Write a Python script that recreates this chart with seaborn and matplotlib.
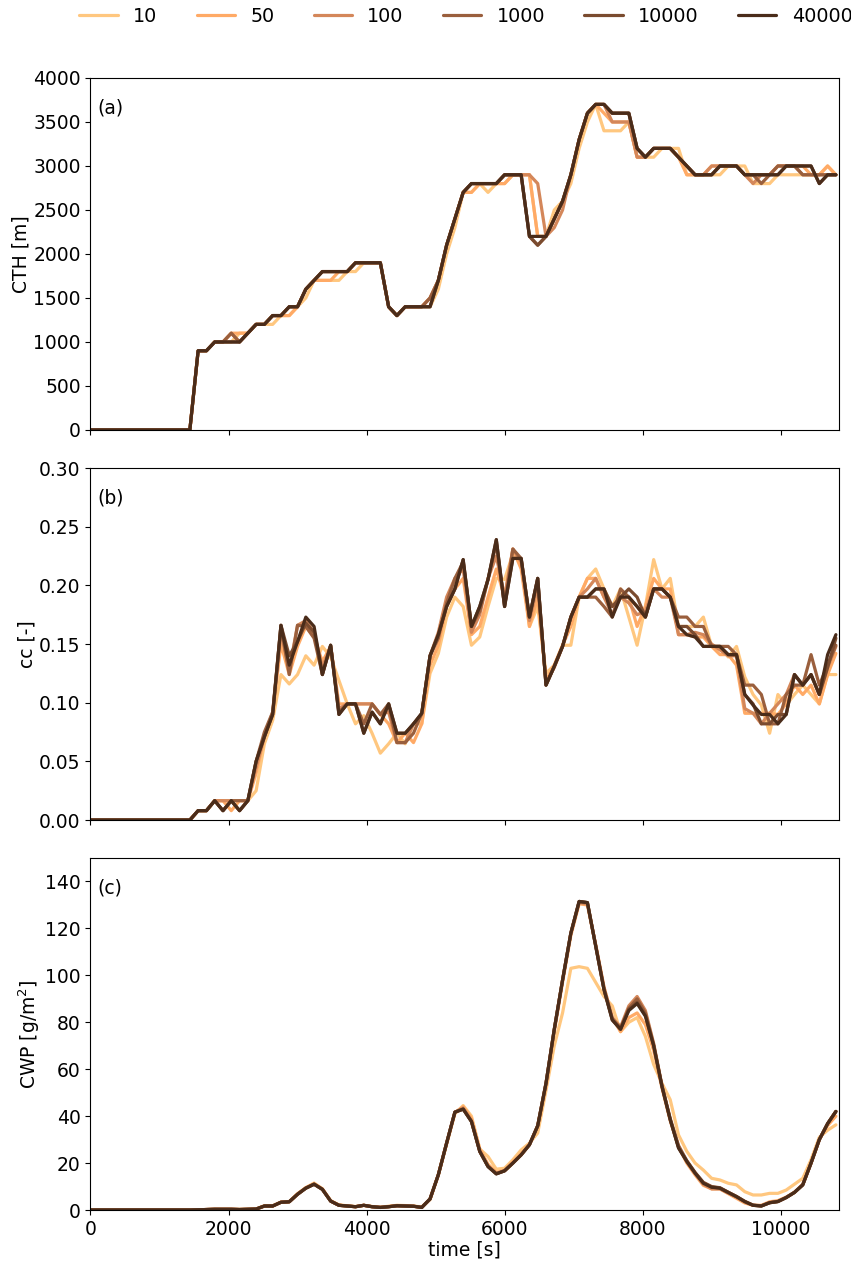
import numpy as np
import pandas as pd
import matplotlib
matplotlib.use("Agg")
import matplotlib.pyplot as plt
import seaborn as sns

# ---------------- data ----------------
time_s = np.arange(0, 10801, 120)  # model output times [s]
runs = ["10", "50", "100", "1000", "10000", "40000"]
colors = ["#FFC77F", "#FFAA66", "#D4875A", "#9A5F3D", "#7A4B2F", "#4A2C1A"]

z13 = [0, 0, 0, 0, 0, 0, 0, 0, 0, 0, 0, 0, 0]

cth_10 = z13 + [
    900, 900, 1000, 1000, 1000, 1100, 1100,
    1200, 1200, 1200, 1300, 1300, 1400, 1500, 1700, 1700, 1700,
    1700, 1800, 1800, 1900, 1900, 1900, 1400, 1300, 1400, 1400,
    1400, 1400, 1600, 2000, 2300, 2700, 2700, 2800, 2700, 2800,
    2800, 2900, 2900, 2900, 2200, 2200, 2500, 2600, 2800, 3200,
    3500, 3700, 3400, 3400, 3400, 3500, 3100, 3100, 3100, 3200,
    3200, 3200, 2900, 2900, 2900, 2900, 2900, 3000, 3000, 3000,
    2800, 2800, 2800, 2900, 2900, 2900, 2900, 2900, 2900, 3000, 2900]
cth_50 = z13 + [
    900, 900, 1000, 1000, 1100, 1100, 1100,
    1200, 1200, 1300, 1300, 1300, 1400, 1600, 1700, 1700, 1700,
    1800, 1800, 1900, 1900, 1900, 1900, 1400, 1300, 1400, 1400,
    1400, 1500, 1700, 2100, 2400, 2700, 2700, 2800, 2800, 2800,
    2800, 2900, 2900, 2900, 2200, 2200, 2400, 2600, 2900, 3300,
    3600, 3700, 3600, 3500, 3500, 3500, 3100, 3100, 3200, 3200,
    3200, 3100, 2900, 2900, 2900, 3000, 3000, 3000, 3000, 2900,
    2900, 2900, 2900, 3000, 3000, 3000, 3000, 2900, 2900, 3000, 2900]
cth_100 = z13 + [
    900, 900, 1000, 1000, 1100, 1000, 1100,
    1200, 1200, 1300, 1300, 1400, 1400, 1600, 1700, 1800, 1800,
    1800, 1800, 1900, 1900, 1900, 1900, 1400, 1300, 1400, 1400,
    1400, 1500, 1700, 2100, 2400, 2700, 2800, 2800, 2800, 2800,
    2900, 2900, 2900, 2900, 2800, 2200, 2300, 2500, 2900, 3300,
    3600, 3700, 3700, 3500, 3500, 3500, 3100, 3100, 3200, 3200,
    3200, 3100, 3000, 2900, 2900, 3000, 3000, 3000, 3000, 2900,
    2800, 2900, 2900, 3000, 3000, 3000, 2900, 2900, 2900, 2900, 2900]
cth_1000 = z13 + [
    900, 900, 1000, 1000, 1100, 1000, 1100,
    1200, 1200, 1300, 1300, 1400, 1400, 1600, 1700, 1800, 1800,
    1800, 1800, 1900, 1900, 1900, 1900, 1400, 1300, 1400, 1400,
    1400, 1500, 1700, 2100, 2400, 2700, 2800, 2800, 2800, 2800,
    2900, 2900, 2900, 2200, 2100, 2200, 2400, 2600, 2900, 3300,
    3600, 3700, 3700, 3600, 3600, 3600, 3200, 3100, 3200, 3200,
    3200, 3100, 3000, 2900, 2900, 2900, 3000, 3000, 3000, 2900,
    2900, 2800, 2900, 3000, 3000, 3000, 2900, 2900, 2900, 2900, 2900]
cth_10000 = z13 + [
    900, 900, 1000, 1000, 1000, 1000, 1100,
    1200, 1200, 1300, 1300, 1400, 1400, 1600, 1700, 1800, 1800,
    1800, 1800, 1900, 1900, 1900, 1900, 1400, 1300, 1400, 1400,
    1400, 1400, 1700, 2100, 2400, 2700, 2800, 2800, 2800, 2800,
    2900, 2900, 2900, 2200, 2100, 2200, 2400, 2600, 2900, 3300,
    3600, 3700, 3700, 3600, 3600, 3600, 3200, 3100, 3200, 3200,
    3200, 3100, 3000, 2900, 2900, 2900, 3000, 3000, 3000, 2900,
    2900, 2900, 2900, 2900, 3000, 3000, 3000, 3000, 2800, 2900, 2900]
cth_40000 = z13 + [
    900, 900, 1000, 1000, 1000, 1000, 1100,
    1200, 1200, 1300, 1300, 1400, 1400, 1600, 1700, 1800, 1800,
    1800, 1800, 1900, 1900, 1900, 1900, 1400, 1300, 1400, 1400,
    1400, 1400, 1700, 2100, 2400, 2700, 2800, 2800, 2800, 2800,
    2900, 2900, 2900, 2200, 2200, 2200, 2400, 2600, 2900, 3300,
    3600, 3700, 3700, 3600, 3600, 3600, 3200, 3100, 3200, 3200,
    3200, 3100, 3000, 2900, 2900, 2900, 3000, 3000, 3000, 2900,
    2900, 2900, 2900, 2900, 3000, 3000, 3000, 3000, 2800, 2900, 2900]

cc_10 = z13 + [
    .008, .008, .0165, .0165, .0165, .0165, .0165,
    .025, .065, .085, .124, .116, .124, .140, .132, .148, .139,
    .119, .099, .082, .089, .074, .057, .065, .074, .065, .082,
    .082, .125, .142, .173, .190, .182, .149, .156, .182, .206,
    .205, .227, .222, .165, .182, .125, .132, .149, .149, .190,
    .206, .214, .197, .182, .197, .173, .149, .182, .222, .197,
    .206, .165, .165, .165, .173, .148, .148, .139, .148, .122,
    .107, .098, .074, .107, .098, .107, .115, .107, .099, .124, .124]
cc_50 = z13 + [
    .008, .008, .0165, .0165, .008, .0165, .0165,
    .040, .071, .090, .150, .124, .148, .165, .156, .135, .148,
    .099, .099, .099, .099, .099, .090, .082, .066, .074, .066,
    .082, .132, .149, .182, .197, .206, .158, .165, .190, .214,
    .190, .231, .214, .165, .190, .119, .132, .149, .165, .190,
    .206, .206, .190, .182, .190, .190, .165, .182, .206, .197,
    .197, .158, .158, .156, .156, .148, .141, .141, .132, .091,
    .091, .091, .091, .090, .099, .115, .107, .115, .099, .124, .142]
cc_100 = z13 + [
    .008, .008, .0165, .0165, .0165, .008, .0165,
    .045, .071, .092, .160, .128, .166, .170, .160, .130, .148,
    .095, .099, .099, .099, .099, .090, .092, .066, .066, .082,
    .090, .140, .160, .190, .206, .214, .160, .175, .206, .225,
    .190, .231, .220, .170, .200, .117, .130, .148, .173, .190,
    .197, .206, .190, .175, .190, .185, .175, .178, .197, .190,
    .190, .158, .158, .160, .158, .150, .145, .140, .140, .095,
    .091, .082, .091, .099, .107, .124, .115, .124, .107, .130, .148]
cc_1000 = z13 + [
    .008, .008, .0165, .008, .0165, .0165, .0165,
    .050, .075, .092, .166, .124, .166, .165, .155, .124, .149,
    .092, .099, .099, .082, .099, .090, .099, .066, .066, .074,
    .091, .140, .155, .185, .206, .220, .165, .178, .205, .236,
    .182, .231, .223, .173, .206, .115, .131, .148, .173, .190,
    .190, .190, .182, .173, .197, .190, .182, .173, .197, .197,
    .190, .173, .173, .165, .165, .148, .148, .148, .141, .115,
    .115, .107, .082, .082, .107, .115, .115, .141, .115, .132, .149]
cc_10000 = z13 + [
    .008, .008, .0165, .008, .0165, .008, .0165,
    .050, .071, .090, .166, .140, .152, .168, .160, .124, .149,
    .090, .099, .099, .074, .092, .082, .099, .074, .074, .082,
    .091, .140, .158, .182, .197, .222, .165, .182, .205, .239,
    .182, .223, .223, .173, .206, .115, .131, .148, .173, .190,
    .190, .197, .197, .182, .190, .197, .190, .173, .197, .197,
    .190, .165, .165, .158, .148, .148, .148, .141, .141, .107,
    .099, .082, .082, .090, .090, .124, .115, .124, .107, .130, .155]
cc_40000 = z13 + [
    .008, .008, .0165, .008, .0165, .008, .0165,
    .050, .071, .090, .166, .132, .152, .173, .165, .124, .149,
    .090, .099, .099, .074, .092, .082, .099, .074, .074, .082,
    .091, .140, .158, .182, .197, .222, .165, .182, .205, .239,
    .182, .223, .223, .173, .206, .115, .131, .148, .173, .190,
    .190, .197, .197, .173, .190, .190, .182, .173, .197, .197,
    .190, .165, .158, .156, .148, .148, .148, .141, .141, .107,
    .098, .090, .090, .082, .090, .124, .115, .124, .107, .141, .158]

cwp_10 = z13 + [
    0.1, 0.2, 0.3, 0.3, 0.3, 0.3, 0.3,
    0.5, 1.8, 1.8, 3.4, 3.6, 7.0, 9.5, 11.5, 9.0, 4.0,
    2.2, 1.8, 1.5, 2.0, 1.5, 1.2, 1.6, 2.0, 1.9, 1.7,
    1.3, 4.5, 15.0, 28.0, 41.0, 44.5, 40.0, 26.0, 22.8, 17.4,
    17.8, 21.4, 25.6, 28.5, 32.8, 51.0, 70.0, 84.0, 103.0, 103.7,
    103.0, 97.0, 91.0, 87.0, 76.0, 80.0, 82.0, 74.0, 62.0, 54.0,
    47.0, 32.0, 25.0, 20.0, 17.0, 13.5, 12.8, 11.4, 10.7, 7.8,
    6.4, 6.4, 7.1, 7.1, 8.5, 11.0, 13.5, 21.4, 31.0, 34.0, 36.3]
cwp_50 = z13 + [
    0.1, 0.2, 0.3, 0.3, 0.3, 0.2, 0.3,
    0.4, 1.7, 1.7, 3.3, 3.5, 6.8, 9.5, 11.2, 9.0, 3.9,
    2.1, 1.7, 1.4, 2.0, 1.4, 1.1, 1.5, 1.9, 1.8, 1.6,
    1.2, 4.6, 15.0, 28.5, 41.5, 44.0, 39.0, 26.0, 19.5, 16.0,
    17.0, 20.5, 24.0, 28.0, 35.5, 53.0, 76.0, 97.0, 117.0, 130.5,
    130.0, 113.0, 95.0, 82.0, 76.0, 82.0, 84.0, 79.0, 68.0, 52.0,
    38.0, 27.0, 20.0, 15.0, 10.5, 9.0, 9.0, 7.0, 5.0, 3.0,
    2.0, 2.0, 3.5, 4.0, 5.5, 7.5, 11.0, 20.0, 30.0, 36.0, 40.0]
cwp_100 = z13 + [
    0.1, 0.2, 0.3, 0.3, 0.3, 0.2, 0.3,
    0.4, 1.7, 1.7, 3.3, 3.5, 6.7, 9.4, 11.0, 8.9, 3.8,
    2.0, 1.7, 1.4, 2.0, 1.4, 1.1, 1.4, 1.8, 1.7, 1.6,
    1.1, 4.7, 15.0, 28.5, 41.7, 43.5, 38.0, 25.0, 18.8, 15.6,
    16.8, 20.0, 23.5, 27.8, 36.0, 54.0, 77.0, 98.0, 118.0, 131.0,
    130.5, 113.0, 95.0, 82.0, 78.0, 87.0, 91.0, 85.0, 71.0, 53.0,
    38.5, 27.0, 20.5, 15.5, 11.0, 9.0, 9.0, 7.2, 5.5, 3.4,
    2.0, 1.8, 3.2, 3.7, 5.4, 7.6, 10.8, 20.0, 30.0, 36.8, 42.0]
cwp_1000 = z13 + [
    0.1, 0.2, 0.3, 0.3, 0.3, 0.2, 0.3,
    0.4, 1.7, 1.7, 3.3, 3.5, 6.7, 9.3, 11.0, 8.8, 3.8,
    2.0, 1.7, 1.4, 2.0, 1.4, 1.1, 1.4, 1.8, 1.7, 1.6,
    1.1, 4.7, 15.0, 28.5, 41.7, 43.0, 37.8, 25.0, 18.6, 15.5,
    16.7, 20.0, 23.5, 27.8, 35.9, 54.0, 77.0, 98.0, 118.0, 131.5,
    131.0, 112.5, 94.0, 81.5, 77.5, 86.0, 90.0, 84.0, 70.5, 53.0,
    39.0, 27.5, 21.0, 16.0, 11.8, 10.0, 9.5, 7.6, 5.8, 3.7,
    2.1, 1.8, 3.1, 3.6, 5.3, 7.5, 10.7, 20.0, 30.0, 36.8, 42.0]
cwp_10000 = z13 + [
    0.1, 0.2, 0.3, 0.3, 0.3, 0.2, 0.3,
    0.4, 1.7, 1.7, 3.3, 3.5, 6.7, 9.3, 11.0, 8.8, 3.8,
    2.0, 1.7, 1.4, 2.0, 1.4, 1.1, 1.4, 1.8, 1.7, 1.6,
    1.1, 4.7, 15.0, 28.5, 41.7, 43.0, 37.7, 25.0, 18.5, 15.4,
    16.7, 20.0, 23.5, 27.8, 35.9, 54.0, 77.0, 98.0, 118.0, 131.5,
    131.0, 112.5, 94.0, 81.0, 77.0, 85.5, 88.5, 83.0, 70.0, 52.7,
    38.5, 26.6, 20.9, 15.9, 11.6, 9.8, 9.4, 7.5, 5.7, 3.6,
    2.0, 1.7, 3.1, 3.6, 5.3, 7.5, 10.7, 20.0, 30.0, 36.8, 42.0]
cwp_40000 = z13 + [
    0.1, 0.2, 0.3, 0.3, 0.3, 0.2, 0.3,
    0.4, 1.7, 1.7, 3.3, 3.5, 6.7, 9.3, 11.0, 8.8, 3.8,
    2.0, 1.7, 1.4, 2.0, 1.4, 1.1, 1.4, 1.8, 1.7, 1.6,
    1.1, 4.7, 15.0, 28.5, 41.7, 43.0, 37.7, 25.0, 18.5, 15.4,
    16.7, 20.0, 23.5, 27.8, 35.9, 54.0, 77.0, 98.0, 118.0, 131.5,
    131.0, 112.5, 94.0, 81.0, 77.0, 85.0, 88.0, 82.6, 70.0, 52.7,
    38.5, 26.4, 20.7, 15.7, 11.4, 9.7, 9.3, 7.5, 5.7, 3.6,
    2.0, 1.7, 3.1, 3.6, 5.3, 7.5, 10.7, 20.0, 30.0, 36.8, 42.0]

panels = [
    ("CTH [m]", [cth_10, cth_50, cth_100, cth_1000, cth_10000, cth_40000]),
    ("cc [-]", [cc_10, cc_50, cc_100, cc_1000, cc_10000, cc_40000]),
    ("CWP [g/m$^2$]", [cwp_10, cwp_50, cwp_100, cwp_1000, cwp_10000, cwp_40000]),
]
panel_tags = ["(a)", "(b)", "(c)"]

# ---------------- figure ----------------
sns.set_style("ticks")
plt.rcParams["font.family"] = ["DejaVu Sans"]
FS = 13.5
plt.rcParams.update({
    "xtick.labelsize": FS, "ytick.labelsize": FS, "axes.labelsize": FS,
    "axes.edgecolor": "black", "xtick.color": "black", "ytick.color": "black",
    "text.color": "black", "axes.labelcolor": "black",
    "axes.linewidth": 0.8,
})

fig = plt.figure(figsize=(8.51, 12.62), dpi=100)
left, width = 0.1063, 0.8800
bottoms = [0.6593, 0.3502, 0.0412]
height = 0.2789
axes = []
for i, b in enumerate(bottoms):
    ax = fig.add_axes([left, b, width, height], sharex=axes[0] if axes else None)
    axes.append(ax)

palette = dict(zip(runs, colors))
for ax, (ylabel, series), tag in zip(axes, panels, panel_tags):
    frames = []
    for run, vals in zip(runs, series):
        frames.append(pd.DataFrame({"time": time_s, "value": np.array(vals, float), "run": run}))
    df = pd.concat(frames, ignore_index=True)
    sns.lineplot(data=df, x="time", y="value", hue="run", hue_order=runs,
                 palette=palette, linewidth=2.3, estimator=None, errorbar=None,
                 sort=False, ax=ax)
    ax.set_ylabel(ylabel, fontsize=FS, labelpad=2)
    ax.set_xlabel("")
    ax.text(0.009, 0.916, tag, transform=ax.transAxes, fontsize=FS,
            ha="left", va="center", color="black")
    for s in ax.spines.values():
        s.set_visible(True)
        s.set_color("black")

handles, labels = axes[0].get_legend_handles_labels()
for ax in axes:
    if ax.get_legend() is not None:
        ax.get_legend().remove()

axes[0].set_ylim(0, 4000)
axes[0].set_yticks(np.arange(0, 4001, 500))
axes[1].set_ylim(0, 0.30)
axes[1].set_yticks(np.arange(0, 0.301, 0.05))
axes[1].yaxis.set_major_formatter(matplotlib.ticker.FormatStrFormatter("%.2f"))
axes[2].set_ylim(0, 150)
axes[2].set_yticks(np.arange(0, 141, 20))

axes[2].set_xlim(0, 10850)
axes[2].set_xticks(np.arange(0, 10001, 2000))
for ax in axes[:2]:
    ax.tick_params(labelbottom=False)
axes[2].set_xlabel("time [s]", fontsize=FS, labelpad=1)

leg = fig.legend(handles, labels, loc="center", bbox_to_anchor=(0.5475, 0.987),
                 ncol=6, frameon=False, fontsize=13.8, handlelength=2.0,
                 columnspacing=2.05, handletextpad=0.8)
for h in leg.get_lines():
    h.set_linewidth(2.3)

fig.savefig("out.png", dpi=100)
